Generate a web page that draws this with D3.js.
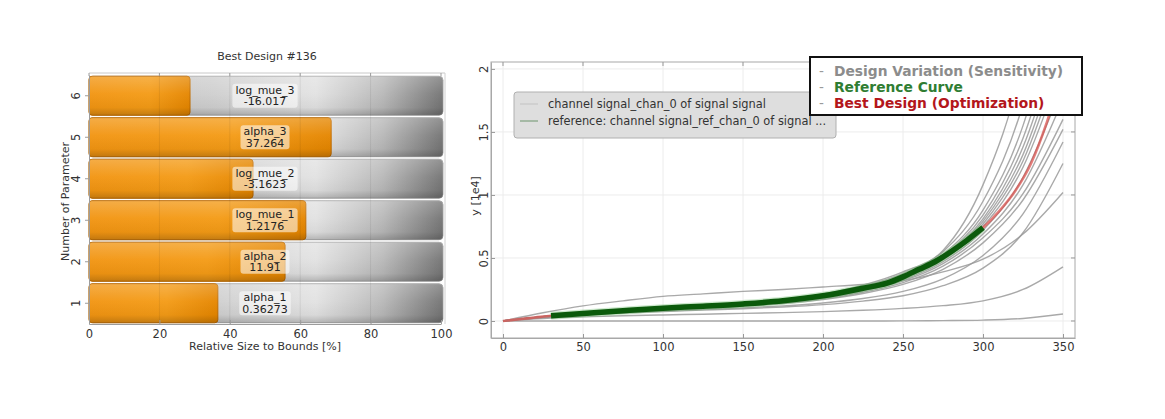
<!DOCTYPE html>
<html><head><meta charset="utf-8">
<script src="https://cdn.jsdelivr.net/npm/d3@7"></script>
<style>
body{margin:0;background:#fff}
svg{display:block}
text{font-family:"DejaVu Sans",Verdana,sans-serif;fill:#333}
</style>
</head><body>
<svg id="chart" width="1165" height="419"></svg>
<script>
// ---------------- data: left bar chart ----------------
const paramIds    = [1, 2, 3, 4, 5, 6];
const paramNames  = ["alpha_1", "alpha_2", "log_mue_1", "log_mue_2", "alpha_3", "log_mue_3"];
const paramValues = ["0.36273", "11.91", "1.2176", "-3.1623", "37.264", "-16.017"];
const relSize     = [36.6, 55.7, 61.6, 46.6, 68.8, 28.7];
const barTicks    = [0, 20, 40, 60, 80, 100];

// ---------------- data: right line chart (y in 1e4) ----------------
const xGrid = [0, 25, 50, 75, 100, 125, 150, 175, 200, 225, 250, 275, 300, 325, 350];
const varFlat  = [0, 0, 0, 0, 0, 0, 0, 0, 0, 0, 0.001, 0.003, 0.007, 0.02, 0.055];
const varLow   = [0, 0.02, 0.033, 0.042, 0.048, 0.054, 0.06, 0.066, 0.074, 0.085, 0.1, 0.122, 0.16, 0.25, 0.43];
const varHigh  = [0, 0.065, 0.12, 0.16, 0.195, 0.215, 0.235, 0.25, 0.27, 0.29, 0.32, 0.39, 0.49, 0.69, 1.02];
const varC1  = [0, 0.036, 0.062, 0.085, 0.104, 0.122, 0.142, 0.17, 0.215, 0.285, 0.39, 0.56, 1.08, 2.05, 3.8];
const varC2  = [0, 0.035, 0.061, 0.083, 0.102, 0.12, 0.14, 0.167, 0.21, 0.275, 0.375, 0.55, 0.95, 1.72, 3.1];
const varC3  = [0, 0.034, 0.06, 0.082, 0.101, 0.118, 0.137, 0.164, 0.205, 0.27, 0.365, 0.53, 0.88, 1.55, 2.75];
const varC4  = [0, 0.035, 0.06, 0.081, 0.1, 0.117, 0.136, 0.162, 0.203, 0.265, 0.36, 0.52, 0.84, 1.45, 2.5];
const varC5  = [0, 0.034, 0.059, 0.08, 0.099, 0.116, 0.135, 0.16, 0.2, 0.262, 0.355, 0.515, 0.81, 1.38, 2.35];
const varC6  = [0, 0.033, 0.058, 0.079, 0.098, 0.115, 0.134, 0.158, 0.198, 0.258, 0.35, 0.505, 0.79, 1.32, 2.25];
const varC7  = [0, 0.034, 0.059, 0.08, 0.098, 0.114, 0.132, 0.156, 0.195, 0.253, 0.343, 0.495, 0.77, 1.27, 2.15];
const varC8  = [0, 0.033, 0.057, 0.078, 0.096, 0.112, 0.13, 0.154, 0.192, 0.25, 0.337, 0.485, 0.75, 1.22, 2.05];
const varC9  = [0, 0.032, 0.056, 0.076, 0.094, 0.11, 0.128, 0.151, 0.188, 0.244, 0.328, 0.47, 0.72, 1.14, 1.88];
const varC10 = [0, 0.032, 0.055, 0.075, 0.093, 0.108, 0.125, 0.148, 0.184, 0.238, 0.318, 0.455, 0.69, 1.08, 1.76];
const varC11 = [0, 0.031, 0.054, 0.073, 0.09, 0.105, 0.121, 0.143, 0.177, 0.228, 0.305, 0.435, 0.66, 1.01, 1.6];
const varC12 = [0, 0.03, 0.052, 0.07, 0.087, 0.101, 0.117, 0.138, 0.17, 0.218, 0.29, 0.41, 0.62, 0.96, 1.52];
const varC13 = [0, 0.028, 0.047, 0.062, 0.075, 0.086, 0.097, 0.111, 0.13, 0.158, 0.2, 0.28, 0.42, 0.7, 1.25];
const varC14 = [0, 0.03, 0.05, 0.066, 0.08, 0.092, 0.104, 0.12, 0.143, 0.178, 0.235, 0.335, 0.52, 0.85, 1.42];
const variations = [varFlat, varLow, varHigh, varC1, varC2, varC3, varC4, varC5, varC6, varC7,
                    varC8, varC9, varC10, varC11, varC12, varC13, varC14];

const refX = [30, 50, 75, 100, 125, 150, 175, 200, 225, 240, 250, 260, 270, 280, 290, 300];
const refY = [0.042, 0.06, 0.082, 0.102, 0.117, 0.135, 0.16, 0.2, 0.26, 0.3, 0.35, 0.41, 0.47, 0.55, 0.64, 0.74];
const bestX = [0, 10, 20, 30, 50, 75, 100, 125, 150, 175, 200, 225, 240, 250, 260, 270, 280, 290, 300, 310, 320, 330, 340, 350];
const bestY = [0, 0.014, 0.028, 0.042, 0.06, 0.082, 0.102, 0.117, 0.135, 0.16, 0.2, 0.26, 0.3, 0.35, 0.41, 0.47, 0.55, 0.64, 0.74, 0.87, 1.03, 1.25, 1.58, 2.0];
const lineXTicks = [0, 50, 100, 150, 200, 250, 300, 350];
const lineYTicks = [0, 0.5, 1, 1.5, 2];

const legendItems = ["channel signal_chan_0 of signal signal", "reference: channel signal_ref_chan_0 of signal ..."];
const noteItems = ["Design Variation (Sensitivity)", "Reference Curve", "Best Design (Optimization)"];
const noteColors = ["#8c8c8c", "#2f7d32", "#b3161b"];

// ---------------- drawing ----------------
const svg = d3.select("#chart");
const defs = svg.append("defs");

function grad(id, stops, vertical) {
  const g = defs.append("linearGradient").attr("id", id)
    .attr("x1", 0).attr("y1", 0).attr("x2", vertical ? 0 : 1).attr("y2", vertical ? 1 : 0);
  stops.forEach(s => g.append("stop").attr("offset", s[0]).attr("stop-color", s[1]).attr("stop-opacity", s[2] == null ? 1 : s[2]));
}
grad("grayH", [[0, "#c2c2c2"], [0.35, "#cfcfcf"], [0.64, "#e2e2e2"], [0.83, "#b8b8b8"], [1, "#747474"]]);
grad("orangeH", [[0, "#f29512"], [0.6, "#f49b16"], [1, "#e58600"]]);
grad("shadeV", [[0, "#fff", 0.22], [0.45, "#fff", 0.04], [0.8, "#000", 0.04], [1, "#000", 0.2]], true);

// ---- left chart ----
const bx = d3.scaleLinear().domain([0, 100]).range([89, 441]);
const by = d3.scaleBand().domain(paramIds.slice().reverse()).range([75, 324]).paddingInner(0.06).paddingOuter(0.03);
const left = svg.append("g");
const plotTop = 73, plotBot = 324, plotR = bx(100) + 4;

left.append("text").attr("x", (bx(0) + plotR) / 2).attr("y", 56)
  .attr("text-anchor", "middle").attr("dominant-baseline", "central")
  .style("font-size", "11px").text("Best Design #136");

const rows = paramIds.map((id, i) => ({id, name: paramNames[i], value: paramValues[i], size: relSize[i]}));

const rg = left.selectAll("g.row").data(rows).join("g").attr("class", "row");
rg.append("rect").attr("x", bx(0)).attr("y", d => by(d.id))
  .attr("width", bx(100) - bx(0) + 2).attr("height", by.bandwidth())
  .attr("rx", 4).attr("fill", "url(#grayH)").attr("stroke", "#9a9a9a").attr("stroke-width", 0.8);
rg.append("rect").attr("x", bx(0)).attr("y", d => by(d.id))
  .attr("width", d => bx(d.size) - bx(0)).attr("height", by.bandwidth())
  .attr("rx", 3).attr("fill", "url(#orangeH)").attr("stroke", "#c06c00").attr("stroke-width", 1);
rg.append("rect").attr("x", bx(0)).attr("y", d => by(d.id))
  .attr("width", bx(100) - bx(0) + 2).attr("height", by.bandwidth())
  .attr("rx", 4).attr("fill", "url(#shadeV)");

// faint vertical grid through bars
left.selectAll("line.vg").data(barTicks.slice(1, -1)).join("line")
  .attr("x1", d => bx(d)).attr("x2", d => bx(d)).attr("y1", plotTop).attr("y2", plotBot)
  .attr("stroke", "#000").attr("stroke-opacity", 0.07);

// labels
rg.each(function(d) {
  const g = d3.select(this);
  const cx = (bx(0) + bx(100)) / 2, cy = by(d.id) + by.bandwidth() / 2;
  const t1 = g.append("text").attr("x", cx).attr("y", cy - 5.5).attr("text-anchor", "middle")
    .attr("dominant-baseline", "central").style("font-size", "11px").style("fill", "#222").text(d.name);
  const t2 = g.append("text").attr("x", cx).attr("y", cy + 6).attr("text-anchor", "middle")
    .attr("dominant-baseline", "central").style("font-size", "11px").style("fill", "#222").text(d.value);
  const w = Math.max(t1.node().getComputedTextLength(), t2.node().getComputedTextLength()) + 6;
  g.insert("rect", "text").attr("x", cx - w / 2).attr("y", cy - 12).attr("width", w).attr("height", 24)
    .attr("rx", 3).attr("fill", "#fff").attr("fill-opacity", 0.55);
});

// frame + axes
const frameCol = "#9c9c9c";
left.append("line").attr("x1", bx(0)).attr("x2", plotR).attr("y1", plotTop).attr("y2", plotTop).attr("stroke", "#c8c8c8");
left.append("line").attr("x1", plotR).attr("x2", plotR).attr("y1", plotTop).attr("y2", plotBot).attr("stroke", "#d0d0d0");
left.selectAll("line.tt").data(barTicks).join("line")
  .attr("x1", d => bx(d)).attr("x2", d => bx(d)).attr("y1", plotTop).attr("y2", plotTop + 3).attr("stroke", frameCol);

const bxAxis = left.append("g").attr("transform", `translate(0,${plotBot})`)
  .call(d3.axisBottom(bx).tickValues(barTicks).tickSize(-4).tickSizeOuter(0));
bxAxis.select(".domain").attr("stroke", frameCol);
bxAxis.selectAll(".tick line").attr("stroke", frameCol);
bxAxis.selectAll(".tick text").attr("y", 10).attr("dy", null).attr("dominant-baseline", "central")
  .style("font-size", "11.5px").style("font-family", "DejaVu Sans").style("fill", "#333");
left.append("text").attr("x", (bx(0) + bx(100)) / 2).attr("y", 346)
  .attr("text-anchor", "middle").attr("dominant-baseline", "central").style("font-size", "11px")
  .text("Relative Size to Bounds [%]");

const byAxis = left.append("g").attr("transform", `translate(${bx(0)},0)`)
  .call(d3.axisLeft(by).tickSize(4).tickSizeOuter(0));
byAxis.select(".domain").attr("stroke", frameCol);
byAxis.selectAll(".tick line").attr("stroke", frameCol);
byAxis.selectAll(".tick text").attr("x", null).attr("dy", null)
  .attr("transform", "translate(-13,0) rotate(-90)").attr("text-anchor", "middle").attr("dominant-baseline", "central")
  .style("font-size", "11.5px").style("font-family", "DejaVu Sans").style("fill", "#333");
left.append("text").attr("transform", `translate(65,${(plotTop + plotBot) / 2 + 3}) rotate(-90)`)
  .attr("text-anchor", "middle").attr("dominant-baseline", "central").style("font-size", "11px")
  .text("Number of Parameter");

// ---- right chart ----
const lx = d3.scaleLinear().domain([-7.5, 357.5]).range([491, 1075]);
const ly = d3.scaleLinear().domain([-0.135, 2.055]).range([338, 62]);
const right = svg.append("g");
const L = lx.range()[0], R = lx.range()[1], T = ly.range()[1], B = ly.range()[0];

defs.append("clipPath").attr("id", "plotClip").append("rect")
  .attr("x", L).attr("y", T).attr("width", R - L).attr("height", B - T);

right.selectAll("line.gx").data(lineXTicks).join("line")
  .attr("x1", d => lx(d)).attr("x2", d => lx(d)).attr("y1", T).attr("y2", B).attr("stroke", "#ececec");
right.selectAll("line.gy").data(lineYTicks).join("line")
  .attr("x1", L).attr("x2", R).attr("y1", d => ly(d)).attr("y2", d => ly(d)).attr("stroke", "#ececec");

const curves = right.append("g").attr("clip-path", "url(#plotClip)");
const line = d3.line().curve(d3.curveMonotoneX);
variations.forEach(v => {
  curves.append("path").attr("d", line(xGrid.map((x, i) => [lx(x), ly(v[i])])))
    .attr("fill", "none").attr("stroke", "#9a9a9a").attr("stroke-width", 1.4).attr("stroke-opacity", 0.85);
});
curves.append("path").attr("d", line(bestX.map((x, i) => [lx(x), ly(bestY[i])])))
  .attr("fill", "none").attr("stroke", "#d9534f").attr("stroke-width", 2.6).attr("stroke-opacity", 0.75);
curves.append("path").attr("d", line(refX.map((x, i) => [lx(x), ly(refY[i])])))
  .attr("fill", "none").attr("stroke", "#6fbf6f").attr("stroke-width", 8).attr("stroke-opacity", 0.35);
curves.append("path").attr("d", line(refX.map((x, i) => [lx(x), ly(refY[i])])))
  .attr("fill", "none").attr("stroke", "#0b5a0b").attr("stroke-width", 5.5);

// frame
right.append("rect").attr("x", L).attr("y", T).attr("width", R - L).attr("height", B - T)
  .attr("fill", "none").attr("stroke", "#a8a8a8");
const lxAxis = right.append("g").attr("transform", `translate(0,${B})`)
  .call(d3.axisBottom(lx).tickValues(lineXTicks).tickSize(-4).tickSizeOuter(0));
lxAxis.select(".domain").attr("stroke", "#a8a8a8");
lxAxis.selectAll(".tick line").attr("stroke", "#999");
lxAxis.selectAll(".tick text").attr("y", 9).attr("dy", null).attr("dominant-baseline", "central")
  .style("font-size", "11.5px").style("font-family", "DejaVu Sans").style("fill", "#333");
right.selectAll("line.rt").data(lineYTicks).join("line")
  .attr("x1", R).attr("x2", R - 4).attr("y1", d => ly(d)).attr("y2", d => ly(d)).attr("stroke", "#999");
right.selectAll("line.tt").data(lineXTicks).join("line")
  .attr("x1", d => lx(d)).attr("x2", d => lx(d)).attr("y1", T).attr("y2", T + 4).attr("stroke", "#999");
const lyAxis = right.append("g").attr("transform", `translate(${L},0)`)
  .call(d3.axisLeft(ly).tickValues(lineYTicks).tickSize(-4).tickSizeOuter(0).tickFormat(d3.format("")));
lyAxis.select(".domain").attr("stroke", "#a8a8a8");
lyAxis.selectAll(".tick line").attr("stroke", "#999");
lyAxis.selectAll(".tick text").attr("x", null).attr("dy", null)
  .attr("transform", "translate(-7.5,0) rotate(-90)").attr("text-anchor", "middle").attr("dominant-baseline", "central")
  .style("font-size", "11.5px").style("font-family", "DejaVu Sans").style("fill", "#333");
right.append("text").attr("transform", `translate(475,${ly(1) + 1}) rotate(-90)`)
  .attr("text-anchor", "middle").attr("dominant-baseline", "central").style("font-size", "11px")
  .text("y [1e4]");

// inner legend
const lg = right.append("g");
lg.append("rect").attr("x", 514).attr("y", 92).attr("width", 322).attr("height", 46).attr("rx", 3)
  .attr("fill", "#dedede").attr("stroke", "#b0b0b0");
const lgColors = ["#c6c6c6", "#7f9f7f"];
legendItems.forEach((t, i) => {
  const yy = 104 + i * 17;
  lg.append("line").attr("x1", 520).attr("x2", 538).attr("y1", yy).attr("y2", yy)
    .attr("stroke", lgColors[i]).attr("stroke-width", 1.2);
  lg.append("text").attr("x", 548).attr("y", yy).attr("dominant-baseline", "central")
    .style("font-size", "11.4px").style("fill", "#333").text(t);
});

// annotation box
const nb = svg.append("g");
nb.append("rect").attr("x", 810).attr("y", 57).attr("width", 272).attr("height", 58)
  .attr("fill", "#fff").attr("stroke", "#111").attr("stroke-width", 2);
noteItems.forEach((t, i) => {
  const yy = 71 + i * 16;
  nb.append("text").attr("x", 819).attr("y", yy).attr("dominant-baseline", "central")
    .style("font-size", "13.5px").style("fill", "#9a9a9a").text("-");
  nb.append("text").attr("x", 834).attr("y", yy).attr("dominant-baseline", "central")
    .style("font-size", "13.8px").style("font-weight", "bold").style("fill", noteColors[i]).text(t);
});
</script>
</body></html>
